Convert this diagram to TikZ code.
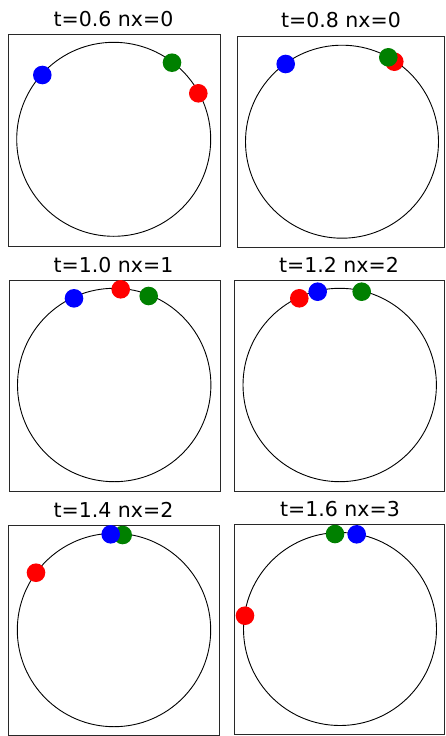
\documentclass[tikz,border=0pt]{standalone}
\usepackage{fontspec}
\setmainfont{DejaVu Sans}
\definecolor{mgreen}{RGB}{0,128,0}
\definecolor{mred}{RGB}{255,0,0}
\definecolor{mblue}{RGB}{0,0,255}
\definecolor{framegray}{RGB}{40,40,40}
\begin{document}
\begin{tikzpicture}[x=1pt,y=-1pt,
  frame/.style={draw=framegray,line width=0.9pt},
  orbit/.style={draw=black,line width=0.9pt},
  ttl/.style={anchor=base,inner sep=0pt,font=\fontsize{20.5}{24}\selectfont},
  dot/.style={circle,inner sep=0pt,minimum size=18.6pt,draw=none},
  rdot/.style={dot,fill=mred},
  gdot/.style={dot,fill=mgreen},
  bdot/.style={dot,fill=mblue}]
\useasboundingbox (0,0) rectangle (445,736);
% panel 1
\node[ttl] (t1) at (113.5,26.5) {t=0.6 nx=0};
\draw[frame] (8,34.3) rectangle (220,246);
\draw[orbit] (113.7,139.3) circle (97);
\node[rdot] (r1) at (198.3,93.3) {};
\node[gdot] (g1) at (172,62.7) {};
\node[bdot] (b1) at (42.3,75) {};
% panel 2
\node[ttl] (t2) at (341,27.3) {t=0.8 nx=0};
\draw[frame] (237.3,36.7) rectangle (444.5,247.7);
\draw[orbit] (342,141.7) circle (96.5);
\node[rdot] (r2) at (394.3,61.7) {};
\node[gdot] (g2) at (388.3,57.3) {};
\node[bdot] (b2) at (285.7,64) {};
% panel 3
\node[ttl] (t3) at (113.5,272.3) {t=1.0 nx=1};
\draw[frame] (9,280.7) rectangle (220,491);
\draw[orbit] (114.2,385) circle (96.7);
\node[rdot] (r3) at (120.7,289.3) {};
\node[gdot] (g3) at (148.7,296) {};
\node[bdot] (b3) at (74,298.3) {};
% panel 4
\node[ttl] (t4) at (339,272.3) {t=1.2 nx=2};
\draw[frame] (234,280.7) rectangle (444.5,491);
\draw[orbit] (339.7,385) circle (96.7);
\node[rdot] (r4) at (299.3,298.3) {};
\node[gdot] (g4) at (361.7,291.7) {};
\node[bdot] (b4) at (317.7,291.7) {};
% panel 5
\node[ttl] (t5) at (113.5,517.3) {t=1.4 nx=2};
\draw[frame] (8,525.7) rectangle (219.3,735);
\draw[orbit] (114,630) circle (96.7);
\node[rdot] (r5) at (36,572.7) {};
\node[gdot] (g5) at (122.7,535) {};
\node[bdot] (b5) at (110.7,534.3) {};
% panel 6
\node[ttl] (t6) at (340,516.7) {t=1.6 nx=3};
\draw[frame] (234.3,524.3) rectangle (444.5,734.3);
\draw[orbit] (340,629) circle (96.5);
\node[rdot] (r6) at (245,615.7) {};
\node[gdot] (g6) at (335,534) {};
\node[bdot] (b6) at (356.7,534.3) {};
\end{tikzpicture}
\end{document}
